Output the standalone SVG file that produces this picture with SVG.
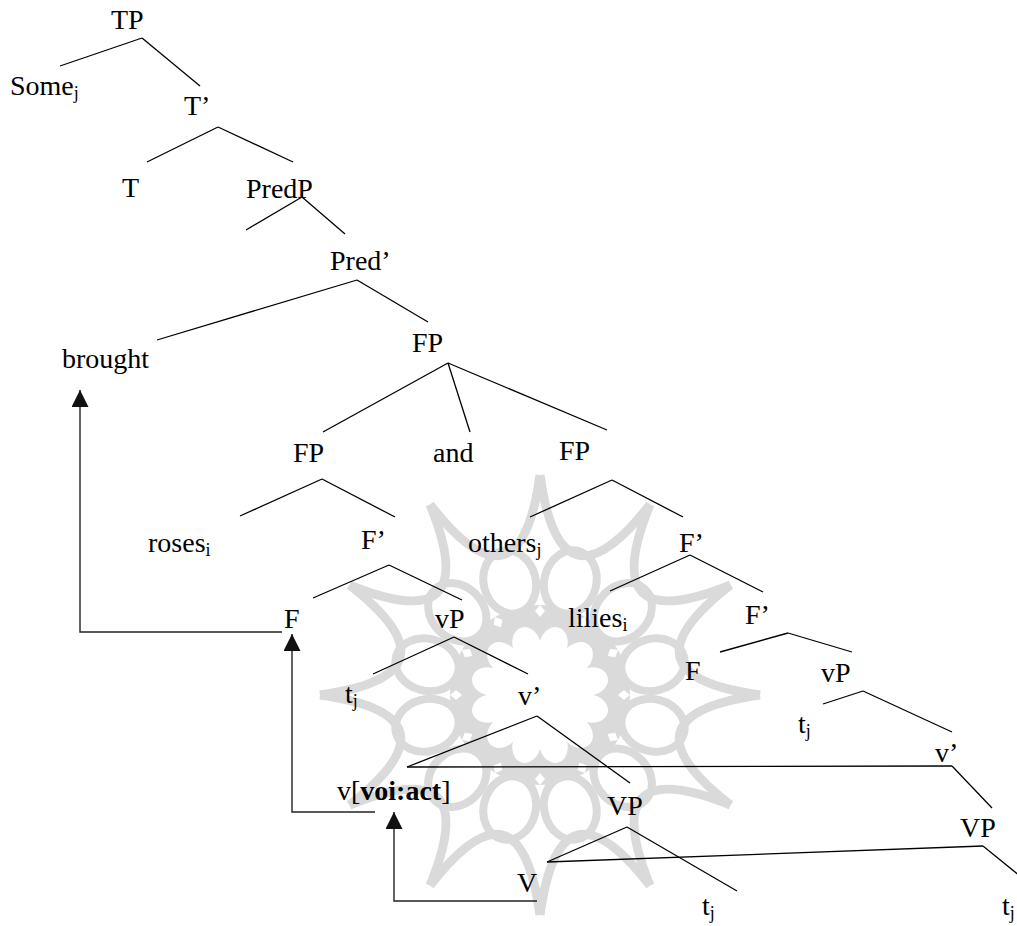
<svg xmlns="http://www.w3.org/2000/svg" width="1017" height="926" viewBox="0 0 1017 926">
<style>
.t text{font-size:28px;fill:#000}
.sub{font-size:18px}
.b{font-weight:bold}
.e line{stroke:#000;stroke-width:1.3}
.arr{fill:none;stroke:#222;stroke-width:1.4}
.wm{fill:none;stroke:#dadada}
</style>
<defs>
<marker id="ah" markerUnits="userSpaceOnUse" markerWidth="17" markerHeight="17" viewBox="0 0 17 17" refX="17" refY="8.5" orient="auto">
<path d="M0,0 L17,8.5 L0,17 z" fill="#111"/>
</marker>
<g id="rsArc"><path d="M0,-220 Q20.06,-74.86 110,-190.5" class="wm" stroke-width="9"/></g>
<g id="rsOval"><ellipse cx="0" cy="-117" rx="26" ry="32" transform="rotate(15)" fill="#fff" stroke="#dadada" stroke-width="8"/></g>
<g id="rsPetal"><ellipse cx="0" cy="-52" rx="14" ry="18" transform="rotate(15)" fill="#fff"/><path d="M0,-78 L5,-84 L0,-90 L-5,-84 z" fill="#fff"/></g>
</defs>
<rect width="1017" height="926" fill="#fff"/>
<g id="watermark" transform="translate(540,695)">
<circle r="90" fill="#dadada"/>
<use href="#rsOval"/><use href="#rsOval" transform="rotate(30)"/><use href="#rsOval" transform="rotate(60)"/><use href="#rsOval" transform="rotate(90)"/><use href="#rsOval" transform="rotate(120)"/><use href="#rsOval" transform="rotate(150)"/><use href="#rsOval" transform="rotate(180)"/><use href="#rsOval" transform="rotate(210)"/><use href="#rsOval" transform="rotate(240)"/><use href="#rsOval" transform="rotate(270)"/><use href="#rsOval" transform="rotate(300)"/><use href="#rsOval" transform="rotate(330)"/>
<use href="#rsArc"/><use href="#rsArc" transform="rotate(30)"/><use href="#rsArc" transform="rotate(60)"/><use href="#rsArc" transform="rotate(90)"/><use href="#rsArc" transform="rotate(120)"/><use href="#rsArc" transform="rotate(150)"/><use href="#rsArc" transform="rotate(180)"/><use href="#rsArc" transform="rotate(210)"/><use href="#rsArc" transform="rotate(240)"/><use href="#rsArc" transform="rotate(270)"/><use href="#rsArc" transform="rotate(300)"/><use href="#rsArc" transform="rotate(330)"/>
<circle r="44" fill="#fff"/>
<use href="#rsPetal"/><use href="#rsPetal" transform="rotate(30)"/><use href="#rsPetal" transform="rotate(60)"/><use href="#rsPetal" transform="rotate(90)"/><use href="#rsPetal" transform="rotate(120)"/><use href="#rsPetal" transform="rotate(150)"/><use href="#rsPetal" transform="rotate(180)"/><use href="#rsPetal" transform="rotate(210)"/><use href="#rsPetal" transform="rotate(240)"/><use href="#rsPetal" transform="rotate(270)"/><use href="#rsPetal" transform="rotate(300)"/><use href="#rsPetal" transform="rotate(330)"/>
</g>
<g id="connectors" class="e">
<line x1="142" y1="38" x2="60" y2="66"/>
<line x1="142" y1="38" x2="200" y2="86"/>
<line x1="218" y1="127" x2="147" y2="162"/>
<line x1="218" y1="127" x2="293" y2="162"/>
<line x1="302" y1="197" x2="246" y2="230"/>
<line x1="302" y1="197" x2="345" y2="234"/>
<line x1="357" y1="280" x2="157" y2="340"/>
<line x1="357" y1="280" x2="428" y2="322"/>
<line x1="448" y1="363" x2="323" y2="432"/>
<line x1="448" y1="363" x2="470" y2="432"/>
<line x1="448" y1="363" x2="607" y2="430"/>
<line x1="322" y1="479" x2="240" y2="516"/>
<line x1="322" y1="479" x2="395" y2="517"/>
<line x1="389" y1="565" x2="313" y2="598"/>
<line x1="389" y1="565" x2="462" y2="600"/>
<line x1="612" y1="480" x2="530" y2="517"/>
<line x1="612" y1="480" x2="683" y2="517"/>
<line x1="690" y1="555" x2="610" y2="591"/>
<line x1="690" y1="555" x2="763" y2="592"/>
<line x1="454" y1="637" x2="373" y2="674"/>
<line x1="454" y1="637" x2="528" y2="674"/>
<line x1="788" y1="633" x2="720" y2="652"/>
<line x1="788" y1="633" x2="852" y2="652"/>
<line x1="863" y1="691" x2="823" y2="704"/>
<line x1="863" y1="691" x2="952" y2="732"/>
<line x1="537" y1="716" x2="407" y2="767"/>
<line x1="537" y1="716" x2="630" y2="783"/>
<line x1="407" y1="767" x2="952" y2="766"/>
<line x1="952" y1="766" x2="992" y2="808"/>
<line x1="627" y1="827" x2="547" y2="862"/>
<line x1="627" y1="827" x2="737" y2="891"/>
<line x1="547" y1="862" x2="983" y2="846"/>
<line x1="983" y1="846" x2="1020" y2="876"/>
<path class="arr" d="M282,632 H80 V390" marker-end="url(#ah)"/>
<path class="arr" d="M375,812 H292 V634" marker-end="url(#ah)"/>
<path class="arr" d="M537,901 H394 V812" marker-end="url(#ah)"/>
</g>
<g class="t" font-family="'Liberation Serif', 'DejaVu Serif', 'Times New Roman', serif">
<g id="n-TP"><text x="111" y="29">TP</text></g>
<g id="n-Some"><text x="10" y="95">Some<tspan class="sub" dy="4">j</tspan></text></g>
<g id="n-Tbar"><text x="184" y="115">T’</text></g>
<g id="n-T"><text x="122" y="197">T</text></g>
<g id="n-PredP"><text x="246" y="198">PredP</text></g>
<g id="n-Predbar"><text x="330" y="270">Pred’</text></g>
<g id="n-brought"><text x="62" y="368">brought</text></g>
<g id="n-FP"><text x="412" y="352">FP</text></g>
<g id="n-FP1"><text x="293" y="462">FP</text></g>
<g id="n-and"><text x="433" y="462">and</text></g>
<g id="n-FP2"><text x="559" y="460">FP</text></g>
<g id="n-roses"><text x="148" y="552">roses<tspan class="sub" dy="4">i</tspan></text></g>
<g id="n-Fbar1"><text x="361" y="549">F’</text></g>
<g id="n-others"><text x="468" y="552">others<tspan class="sub" dy="4">j</tspan></text></g>
<g id="n-Fbar2"><text x="679" y="552">F’</text></g>
<g id="n-F1"><text x="284" y="628">F</text></g>
<g id="n-vP1"><text x="435" y="628">vP</text></g>
<g id="n-lilies"><text x="568" y="627">lilies<tspan class="sub" dy="4">i</tspan></text></g>
<g id="n-Fbar3"><text x="745" y="624">F’</text></g>
<g id="n-F2"><text x="685" y="680">F</text></g>
<g id="n-vP2"><text x="821" y="682">vP</text></g>
<g id="n-t1"><text x="345" y="703">t<tspan class="sub" dy="4">j</tspan></text></g>
<g id="n-vbar1"><text x="518" y="705">v’</text></g>
<g id="n-t2"><text x="798" y="733">t<tspan class="sub" dy="4">j</tspan></text></g>
<g id="n-vbar2"><text x="935" y="762">v’</text></g>
<g id="n-v"><text x="337" y="800">v[<tspan class="b">voi:act</tspan>]</text></g>
<g id="n-VP1"><text x="607" y="815">VP</text></g>
<g id="n-VP2"><text x="960" y="837">VP</text></g>
<g id="n-V"><text x="517" y="892">V</text></g>
<g id="n-t3"><text x="702" y="915">t<tspan class="sub" dy="4">j</tspan></text></g>
<g id="n-t4"><text x="1002" y="915">t<tspan class="sub" dy="4">j</tspan></text></g>
</g>
</svg>
